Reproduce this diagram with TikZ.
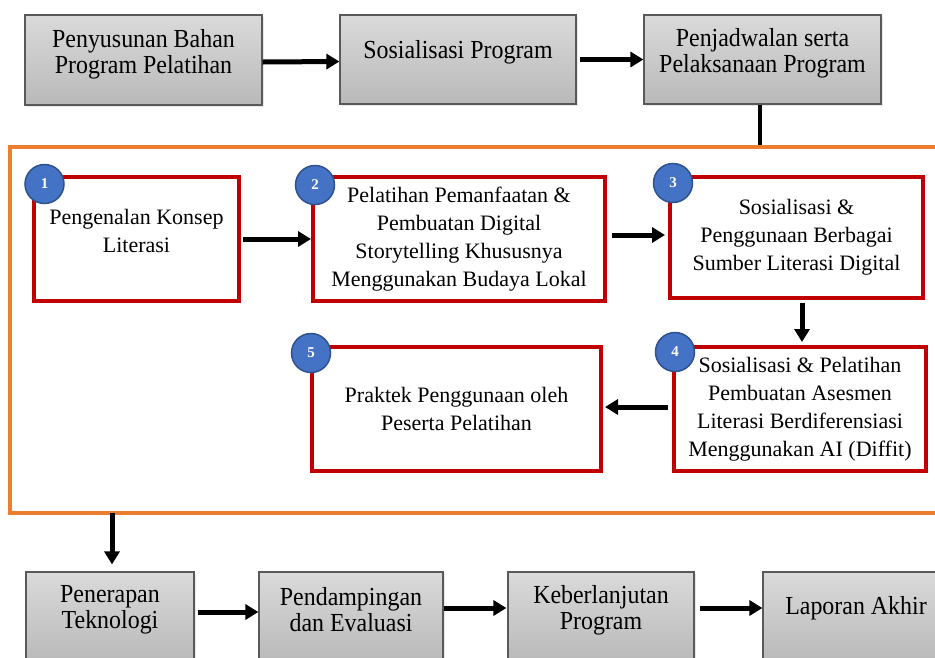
\documentclass[tikz,border=0pt]{standalone}
\usepackage{fontspec}
\setmainfont{Liberation Serif}
\newfontfamily\narrowserif[FakeStretch=0.92]{Liberation Serif}
\usetikzlibrary{arrows.meta,shadows,calc}
\definecolor{gtop}{HTML}{DADADA}
\definecolor{gbot}{HTML}{B9B9B9}
\definecolor{gborder}{HTML}{595959}
\definecolor{redb}{HTML}{C00000}
\definecolor{orangeb}{HTML}{ED7D31}
\definecolor{bluec}{HTML}{4472C4}
\definecolor{bluecb}{HTML}{2F528F}
\tikzset{
  graybox/.style={draw=gborder, line width=1.2pt, top color=gtop, bottom color=gbot,
    drop shadow={shadow xshift=2pt, shadow yshift=-2pt, opacity=0.18}, inner sep=0pt},
  graytxt/.style={align=center, font=\narrowserif\fontsize{26}{26}\selectfont, inner sep=0pt},
  redbox/.style={draw=redb, line width=4pt, fill=white, align=center,
    font=\fontsize{22}{28}\selectfont, inner sep=0pt},
  redtxt/.style={align=center, font=\fontsize{22}{28}\selectfont, inner sep=0pt},
  numcirc/.style={circle, draw=bluecb, line width=1.5pt, fill=bluec, minimum size=39pt,
    inner sep=0pt, text=white, font=\fontsize{15}{17}\selectfont\bfseries},
  arr/.style={draw=black, line width=5pt, -{Triangle[length=13pt,width=15pt]}},
  conn/.style={draw=black, line width=4.5pt},
  frame/.style={draw=orangeb, line width=4.5pt}
}
\begin{document}
\begin{tikzpicture}[x=1pt,y=-1pt]
\useasboundingbox (0,0) rectangle (935,657);
\clip (0,0) rectangle (935,657);
\fill[white] (0,0) rectangle (935,657);

% top row
\node[graybox, minimum width=237pt, minimum height=90pt] (t1) at (143.5,60) {};
\node[graytxt] (t1x) at (143.5,54.5) {Penyusunan Bahan\\Program Pelatihan};
\node[graybox, minimum width=236pt, minimum height=89pt] (t2) at (458,59.5) {};
\node[graytxt] (t2x) at (458,52) {Sosialisasi Program};
\node[graybox, minimum width=237pt, minimum height=89pt] (t3) at (762.5,59.5) {};
\node[graytxt] (t3x) at (762.5,53.5) {Penjadwalan serta\\Pelaksanaan Program};

\draw[arr] ([yshift=-2pt]t1.east) -- ([yshift=-2pt]t2.west);
\draw[arr, shorten <=3pt] ([yshift=0pt]t2.east) -- ([yshift=0pt]t3.west);

% orange frame
\coordinate (ftop) at (760,147);
\coordinate (fbot) at (112,513);
\draw[conn] ([xshift=-2.5pt]t3.south) -- (ftop);
\draw[frame] (940,147) -- (10,147) -- (10,513) -- (940,513);

% red boxes
\node[redbox, minimum width=205pt, minimum height=124pt] (r1) at (136.5,239) {};
\node[redtxt] (r1x) at (136.5,230.5) {Pengenalan Konsep\\Literasi};
\node[redbox, minimum width=292pt, minimum height=124pt] (r2) at (459,239)
  {Pelatihan Pemanfaatan \&\\Pembuatan Digital\\Storytelling Khususnya\\Menggunakan Budaya Lokal};
\node[redbox, minimum width=253pt, minimum height=121pt] (r3) at (796.5,237.5)
  {Sosialisasi \&\\Penggunaan Berbagai\\Sumber Literasi Digital};
\node[redbox, minimum width=252pt, minimum height=124pt] (r4) at (800,409)
  {Sosialisasi \& Pelatihan\\Pembuatan Asesmen\\Literasi Berdiferensiasi\\Menggunakan AI (Diffit)};
\node[redbox, minimum width=289pt, minimum height=124pt] (r5) at (456.5,409)
  {Praktek Penggunaan oleh\\Peserta Pelatihan};

\node[numcirc] (c1) at (44.5,184) {1};
\node[numcirc] (c2) at (315,185) {2};
\node[numcirc] (c3) at (673,183) {3};
\node[numcirc] (c4) at (675,352) {4};
\node[numcirc] (c5) at (311,353) {5};

\draw[arr, shorten <=2pt] (r1.east) -- (r2.west);
\draw[arr, shorten <=5pt, shorten >=3pt] ([yshift=4pt]r2.east) -- ([yshift=2.5pt]r3.west);
\draw[arr, shorten <=3pt, shorten >=3pt] ([xshift=5.5pt]r3.south) -- ([xshift=5.5pt]r3.south |- r4.north);
\draw[arr, shorten <=4pt, shorten >=2pt] ([yshift=2pt]r4.west) -- ([yshift=2pt]r4.west -| r5.east);

% bottom row
\node[graybox, minimum width=168pt, minimum height=90pt] (b1) at (110,617) {};
\node[graytxt] (b1x) at (110,610) {Penerapan\\Teknologi};
\node[graybox, minimum width=184pt, minimum height=90pt] (b2) at (351,617) {};
\node[graytxt] (b2x) at (351,610) {Pendampingan\\dan Evaluasi};
\node[graybox, minimum width=186pt, minimum height=90pt] (b3) at (601,617) {};
\node[graytxt] (b3x) at (601,610) {Keberlanjutan\\Program};
\node[graybox, minimum width=190pt, minimum height=90pt] (b4) at (858,617) {};
\node[graytxt] (b4x) at (856,608) {Laporan Akhir};

\draw[arr, shorten >=7pt] (fbot) -- (fbot |- b1.north);
\draw[arr, shorten <=3pt] ([yshift=5pt]b1.east) -- ([yshift=5pt]b1.east -| b2.west);
\draw[arr, shorten >=1pt] ([yshift=9pt]b2.east) -- ([yshift=9pt]b2.east -| b3.west);
\draw[arr, shorten <=5pt] ([yshift=9pt]b3.east) -- ([yshift=9pt]b3.east -| b4.west);
\end{tikzpicture}
\end{document}
